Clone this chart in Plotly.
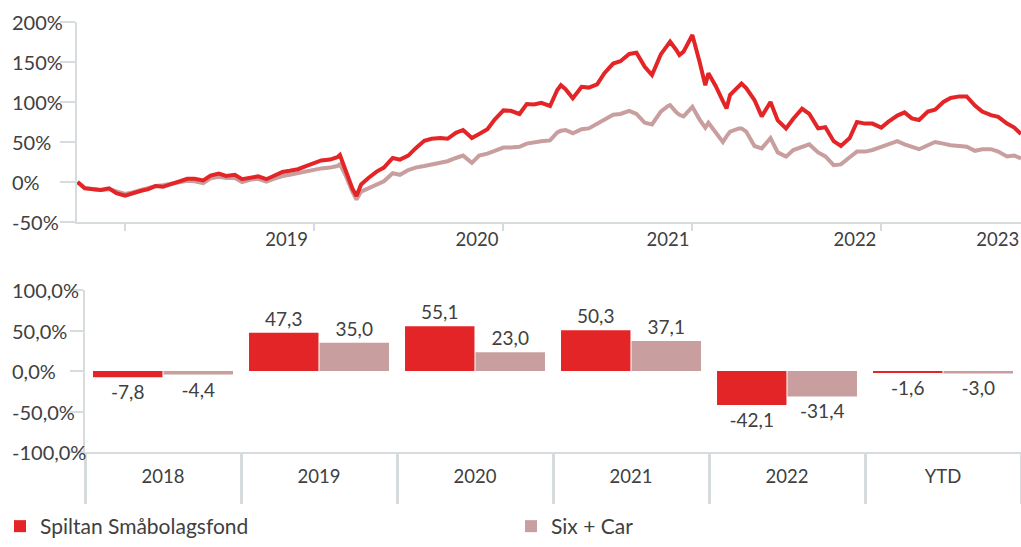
import plotly.graph_objects as go

# ---------------- data ----------------
dates = [
    "2018-10-01", "2018-10-15", "2018-11-01", "2018-11-15", "2018-12-01", "2018-12-15",
    "2019-01-01", "2019-01-15", "2019-02-01", "2019-02-15", "2019-03-01", "2019-03-15",
    "2019-04-01", "2019-04-15", "2019-05-01", "2019-05-15", "2019-06-01", "2019-06-15",
    "2019-07-01", "2019-07-15", "2019-08-01", "2019-08-15", "2019-09-01", "2019-09-15",
    "2019-10-01", "2019-10-15", "2019-11-01", "2019-11-15", "2019-12-01", "2019-12-15",
    "2020-01-01", "2020-01-15", "2020-02-01", "2020-02-15", "2020-02-20", "2020-03-01",
    "2020-03-15", "2020-03-23", "2020-04-01", "2020-04-15", "2020-05-01", "2020-05-15",
    "2020-06-01", "2020-06-15", "2020-07-01", "2020-07-15", "2020-08-01", "2020-08-15",
    "2020-09-01", "2020-09-15", "2020-10-01", "2020-10-15", "2020-11-01", "2020-11-15",
    "2020-12-01", "2020-12-15",
    "2021-01-01", "2021-01-15", "2021-02-01", "2021-02-15", "2021-03-01", "2021-03-15",
    "2021-04-01", "2021-04-15", "2021-04-22", "2021-05-01", "2021-05-15", "2021-06-01",
    "2021-06-15", "2021-07-01", "2021-07-15", "2021-08-01", "2021-08-15", "2021-09-01",
    "2021-09-15", "2021-10-01", "2021-10-15", "2021-11-01", "2021-11-15", "2021-11-19",
    "2021-12-01", "2021-12-07", "2021-12-15",
    "2022-01-01", "2022-01-15", "2022-01-26", "2022-02-01", "2022-02-15", "2022-03-01",
    "2022-03-08", "2022-03-15", "2022-04-01", "2022-04-06", "2022-04-15", "2022-05-01",
    "2022-05-15", "2022-06-01", "2022-06-15", "2022-07-01", "2022-07-15", "2022-08-01",
    "2022-08-15", "2022-09-01", "2022-09-15", "2022-10-01", "2022-10-15", "2022-11-01",
    "2022-11-15", "2022-12-01", "2022-12-15",
    "2023-01-01", "2023-01-15", "2023-02-01", "2023-02-15", "2023-03-01", "2023-03-15",
    "2023-04-01", "2023-04-15", "2023-05-01", "2023-05-15", "2023-06-01", "2023-06-15",
    "2023-07-01", "2023-07-15", "2023-08-01", "2023-08-15", "2023-09-01", "2023-09-15",
    "2023-09-28",
]

spiltan_line = [
    0, -8, -9, -10, -8, -14,
    -17, -14, -11, -9, -5, -6,
    -2, 1.5, 4, 4, 2, 8,
    10.5, 7.5, 9, 3.5, 6, 7,
    3.5, 7.5, 12.5, 14, 16, 19.5,
    23.5, 27, 28, 31, 33.8, 15,
    -8, -17.5, -3, 5, 13, 18,
    30, 28, 33, 42, 51.5, 54,
    55, 54, 61.5, 65, 55, 60,
    66, 78,
    89.5, 89, 85, 97.5, 97, 99,
    95, 115, 121, 116, 104.6, 119,
    118, 122, 136, 148, 151, 160,
    161.5, 144, 133.8, 159.5, 171, 175.4,
    165, 158.8, 163,
    183.8, 150, 121, 136, 120, 101,
    92, 109, 120, 123, 117.5, 102.5,
    82, 100, 77, 67, 79, 91.5,
    85, 67, 68.5, 51, 45, 55,
    75, 73, 73,
    68, 75.5, 83, 87, 79.5, 77.5,
    88, 90.5, 100, 105, 107, 107,
    95.5, 88, 83.5, 81.5, 73, 68,
    60,
]

sixcar_line = [
    0, -7, -9, -10, -9, -12,
    -15, -13, -10, -7, -5, -4,
    -2, 0, 1.5, 1, -1.5, 4.5,
    6.5, 5, 5, 0, 3, 4,
    0.5, 4, 7.5, 9, 11, 13,
    16, 17, 18, 20, 22, 10,
    -12, -22, -12, -8, -3, 1,
    11, 9, 15, 18, 20, 22,
    24, 26, 30, 33, 24, 33,
    35.5, 39,
    43, 43, 44, 48, 50, 51,
    52, 62, 64, 65, 61, 66,
    67, 73, 79, 84, 85, 89,
    85, 74, 72, 88, 95, 96,
    87, 84, 82,
    94, 78, 68, 74, 62, 50,
    57, 63, 67, 67, 63, 45,
    42, 55, 37, 31.7, 40, 44,
    47, 37, 32, 21, 22, 31,
    38, 38, 40,
    44, 47, 51, 47, 44, 41,
    46, 50, 48, 46, 45, 44,
    39, 41, 41, 38, 32, 33,
    29.6,
]

year_labels = ["2019", "2020", "2021", "2022", "2023"]
year_label_dates = ["2019-11-09", "2020-11-11", "2021-11-15", "2022-11-11", "2023-08-14"]
year_tick_dates = ["2019-01-01", "2020-01-01", "2021-01-01", "2022-01-01", "2023-01-01"]

line_ytick_vals = [-50, 0, 50, 100, 150, 200]
line_ytick_text = ["-50%", "0%", "50%", "100%", "150%", "200%"]

bar_categories = ["2018", "2019", "2020", "2021", "2022", "YTD"]
spiltan_bars = [-7.8, 47.3, 55.1, 50.3, -42.1, -1.6]
sixcar_bars = [-4.4, 35.0, 23.0, 37.1, -31.4, -3.0]

bar_ytick_vals = [-100, -50, 0, 50, 100]
bar_ytick_text = ["-100,0%", "-50,0%", "0,0%", "50,0%", "100,0%"]

# ---------------- style ----------------
RED = "#E42527"
GREY = "#C89E9E"
AX = "#D6DBDE"
TXT = "#404040"
FONT = "Lato"
W, H = 1021, 547

fig = go.Figure()

fig.add_trace(go.Scatter(
    x=dates, y=sixcar_line, mode="lines", name="Six + Car",
    line=dict(color=GREY, width=4), showlegend=False, xaxis="x", yaxis="y",
))
fig.add_trace(go.Scatter(
    x=dates, y=spiltan_line, mode="lines", name="Spiltan Småbolagsfond",
    line=dict(color=RED, width=4), showlegend=False, xaxis="x", yaxis="y",
))

fig.add_trace(go.Bar(
    x=bar_categories, y=spiltan_bars, name="Spiltan Småbolagsfond",
    marker=dict(color=RED, line=dict(width=0)),
    texttemplate="%{y:.1f}", textposition="outside",
    textfont=dict(size=19, color=TXT, family=FONT), cliponaxis=False,
    xaxis="x2", yaxis="y2", legend="legend",
))
fig.add_trace(go.Bar(
    x=bar_categories, y=sixcar_bars, name="Six + Car",
    marker=dict(color=GREY, line=dict(width=0)),
    texttemplate="%{y:.1f}", textposition="outside",
    textfont=dict(size=19, color=TXT, family=FONT), cliponaxis=False,
    xaxis="x2", yaxis="y2", legend="legend2",
))

# left-aligned y tick labels (as in the reference)
annotations = []
for v, t in zip(line_ytick_vals, line_ytick_text):
    annotations.append(dict(x=10 / W, xref="paper", xanchor="left", y=v, yref="y",
                            yanchor="middle", text=t, showarrow=False,
                            font=dict(size=20, color=TXT, family=FONT)))
for v, t in zip(bar_ytick_vals, bar_ytick_text):
    annotations.append(dict(x=10 / W, xref="paper", xanchor="left", y=v, yref="y2",
                            yanchor="middle", text=t, showarrow=False,
                            font=dict(size=20, color=TXT, family=FONT)))

legend_common = dict(
    orientation="h", yanchor="bottom", y=0, xanchor="left",
    font=dict(size=21, color=TXT, family=FONT),
    bgcolor="rgba(0,0,0,0)", borderwidth=0, itemclick=False,
)

fig.update_layout(
    width=W, height=H, autosize=False,
    margin=dict(l=0, r=0, t=0, b=0),
    paper_bgcolor="white", plot_bgcolor="white",
    font=dict(family=FONT, size=18, color=TXT),
    separators=",.",
    barmode="group", bargap=0.096, bargroupgap=0.015,
    annotations=annotations,
    xaxis=dict(
        domain=[77 / W, 1], anchor="y", type="date", automargin=False,
        range=["2018-09-30", "2023-09-28"],
        showline=True, linecolor=AX, linewidth=2,
        showgrid=False, zeroline=False,
        tickmode="array", tickvals=year_label_dates, ticktext=year_labels,
        ticks="", tickfont=dict(size=18.5, color=TXT),
        minor=dict(ticks="outside", tickmode="array", tickvals=year_tick_dates,
                   ticklen=7, tickwidth=2, tickcolor=AX, showgrid=False),
    ),
    yaxis=dict(
        domain=[1 - 222 / H, 1 - 22 / H], anchor="x", automargin=False,
        range=[-50, 200],
        tickmode="array", tickvals=line_ytick_vals, showticklabels=False,
        ticks="outside", ticklen=15, tickwidth=2, tickcolor=AX,
        showline=True, linecolor=AX, linewidth=2,
        showgrid=False, zeroline=False,
    ),
    xaxis2=dict(
        domain=[85 / W, 1], anchor="y2", type="category", automargin=False,
        categoryorder="array", categoryarray=bar_categories,
        showline=True, linecolor=AX, linewidth=2,
        ticks="outside", tickson="boundaries", ticklen=50, tickwidth=3, tickcolor=AX,
        ticklabelstandoff=7,
        showgrid=False, zeroline=False, tickfont=dict(size=18.5, color=TXT),
    ),
    yaxis2=dict(
        domain=[1 - 452 / H, 1 - 290 / H], anchor="x2", automargin=False,
        range=[-100, 100],
        tickmode="array", tickvals=bar_ytick_vals, showticklabels=False,
        ticks="outside", ticklen=13, tickwidth=2, tickcolor=AX,
        showline=True, linecolor=AX, linewidth=2,
        showgrid=False, zeroline=False,
    ),
    legend=dict(x=0, **legend_common),
    legend2=dict(x=511 / W, **legend_common),
)

fig.write_html("out.html", config={"displayModeBar": False},
               post_script="document.body.style.margin='0';")
